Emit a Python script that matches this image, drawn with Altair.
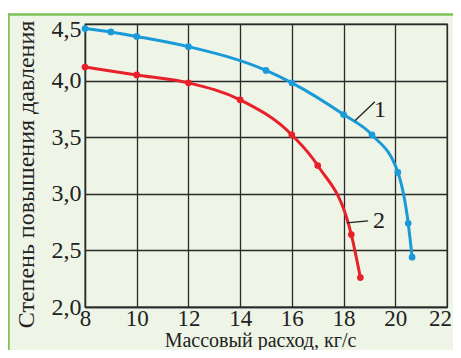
import altair as alt
import pandas as pd

# Curve 1 (blue)
blue_x = [8, 9, 10, 12, 15, 16, 18, 19.1, 20.1, 20.5, 20.65]
blue_y = [4.46, 4.43, 4.39, 4.30, 4.09, 3.98, 3.70, 3.52, 3.19, 2.74, 2.44]
# Curve 2 (red)
red_x = [8, 10, 12, 14, 16, 17, 18.3, 18.65]
red_y = [4.12, 4.05, 3.98, 3.83, 3.52, 3.25, 2.64, 2.26]

x_ticks = [8, 10, 12, 14, 16, 18, 20, 22]
y_ticks = [2.0, 2.5, 3.0, 3.5, 4.0, 4.5]

label_text = ["1", "2"]
label_x = [19.41, 19.37]
label_y = [3.74, 2.758]
lead_x = [18.44, 18.12]
lead_y = [3.645, 2.743]
lead_x2 = [19.21, 18.95]
lead_y2 = [3.813, 2.761]

BLUE = "#1a9ad8"
RED = "#e8202a"
GRID = "#2a2a2a"
FRAME = "#7dc354"
BG = "#eef5e6"
FONT = "Liberation Serif"

df1 = pd.DataFrame({"x": blue_x, "y": blue_y})
df2 = pd.DataFrame({"x": red_x, "y": red_y})
lbl = pd.DataFrame({"x": label_x, "y": label_y, "t": label_text})
lead = pd.DataFrame({"x": lead_x, "y": lead_y, "x2": lead_x2, "y2": lead_y2})
one = pd.DataFrame({"a": [0]})

xs = alt.Scale(domain=[8, 22], nice=False, zero=False)
ys = alt.Scale(domain=[2, 4.5], nice=False, zero=False)

xaxis = alt.Axis(
    values=x_ticks, grid=True, ticks=False, labelFlush=False,
    labelFontSize=23,
    labelOffset={"condition": {"test": "datum.value == 22", "value": -7}, "value": 0},
    title="Массовый расход, кг/с", titleX=175, titleY=39,
    titleAlign="center", titleBaseline="alphabetic", titleFontSize=20,
    labelPadding=0,
)
yaxis = alt.Axis(
    values=y_ticks, grid=True, ticks=False,
    labelExpr="replace(format(datum.value, '.1f'), '.', ',')",
    labelOffset={"condition": {"test": "datum.value == 4.5", "value": 5.5}, "value": 0},
    title="Степень повышения давления", titleAngle=-90,
    titleX=-52, titleY=150, titleAlign="center", titleBaseline="alphabetic",
    titleFontSize=24,
    labelPadding=4,
)

X = alt.X("x:Q", scale=xs, axis=xaxis)
Y = alt.Y("y:Q", scale=ys, axis=yaxis)

line1 = alt.Chart(df1).mark_line(color=BLUE, strokeWidth=3, interpolate="monotone").encode(x=X, y=Y)
pts1 = alt.Chart(df1).mark_point(color=BLUE, filled=True, size=45, opacity=1).encode(x="x:Q", y="y:Q")
line2 = alt.Chart(df2).mark_line(color=RED, strokeWidth=3, interpolate="monotone").encode(x="x:Q", y="y:Q")
pts2 = alt.Chart(df2).mark_point(color=RED, filled=True, size=45, opacity=1).encode(x="x:Q", y="y:Q")

leaders = alt.Chart(lead).mark_rule(color="#222222", strokeWidth=1.3).encode(
    x="x:Q", y="y:Q", x2="x2:Q", y2="y2:Q"
)
texts = alt.Chart(lbl).mark_text(font=FONT, fontSize=24, color="#222222", align="center", baseline="middle").encode(
    x="x:Q", y="y:Q", text="t:N"
)

white_strip = alt.Chart(one).mark_rect(color="white").encode(
    x=alt.value(-90), x2=alt.value(420), y=alt.value(-20), y2=alt.value(-10.8)
)
frame_top = alt.Chart(one).mark_rule(color=FRAME, strokeWidth=2.5).encode(
    x=alt.value(-78), x2=alt.value(420), y=alt.value(-9.5)
)
frame_left = alt.Chart(one).mark_rule(color=FRAME, strokeWidth=2.5).encode(
    x=alt.value(-76.5), y=alt.value(-10.7), y2=alt.value(420)
)

chart = alt.layer(
    white_strip, frame_top, frame_left, line1, line2, pts1, pts2, leaders, texts
).properties(
    width=362, height=283,
    autosize=alt.AutoSizeParams(type="none"),
    padding={"left": 77, "top": 16, "right": 6, "bottom": 43},
    background=BG,
).configure_view(
    stroke=GRID, strokeWidth=1.3
).configure_axis(
    gridColor=GRID, gridWidth=1.3, gridOpacity=1,
    domainColor=GRID, domainWidth=1.3,
    labelFont=FONT, labelFontSize=24, labelColor="#222222",
    titleFont=FONT, titleFontSize=22, titleColor="#222222", titleFontWeight="normal",
)

chart.save("out.html", embed_options={"renderer": "svg", "actions": False})
